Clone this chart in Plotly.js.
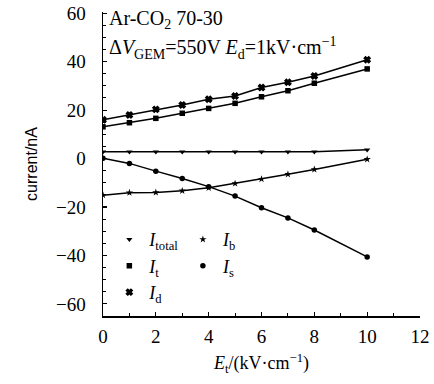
<!DOCTYPE html>
<html>
<head>
<meta charset="utf-8">
<script src="https://cdn.plot.ly/plotly-3.0.1.min.js"></script>
<style>html,body{margin:0;padding:0;background:#fff}</style>
</head>
<body>
<div id="chart" style="width:434px;height:384px"></div>
<script>
const Et = [0, 1, 2, 3, 4, 5, 6, 7, 8, 10];
const I_total = [2.8, 2.8, 2.8, 2.8, 2.8, 2.8, 2.8, 2.8, 2.8, 3.6];
const I_t = [13.1, 14.8, 16.6, 18.7, 20.7, 22.8, 25.5, 28.0, 31.1, 37.0];
const I_d = [16.0, 18.0, 20.3, 22.1, 24.5, 25.8, 29.3, 31.5, 34.1, 40.8];
const I_b = [-15.1, -14.1, -14.0, -13.3, -12.1, -10.3, -8.5, -6.5, -4.5, -0.3];
const I_s = [0.1, -2.0, -5.2, -8.2, -11.6, -15.5, -20.3, -24.5, -29.5, -40.6];

const names = ['<i>I</i><sub>total</sub>', '<i>I</i><sub>t</sub>', '<i>I</i><sub>d</sub>', '<i>I</i><sub>b</sub>', '<i>I</i><sub>s</sub>'];
const seriesList = [I_total, I_t, I_d, I_b, I_s];
const symbols = ['triangle-down', 'square', 'x', 'star', 'circle'];
const legends = ['legend', 'legend', 'legend', 'legend2', 'legend2'];

const traces = [];
seriesList.forEach((ys, i) => {
  traces.push({x: Et, y: ys, mode: 'lines', line: {color: '#000', width: 1.5}, showlegend: false, hoverinfo: 'skip'});
});
seriesList.forEach((ys, i) => {
  traces.push({x: Et, y: ys, mode: 'markers', name: names[i], legend: legends[i],
    marker: {symbol: symbols[i], size: 5.5, color: '#000', line: {color: '#000', width: symbols[i] === 'x' ? 1.2 : 0}}});
});

const serif = 'Liberation Serif, Times New Roman, serif';
const layout = {
  width: 434, height: 384,
  margin: {l: 103, r: 14, t: 12, b: 68},
  paper_bgcolor: '#fff', plot_bgcolor: '#fff',
  font: {family: serif, color: '#000', size: 18},
  xaxis: {
    range: [0, 12], tick0: 0, dtick: 2, ticks: 'inside', ticklen: 4, tickwidth: 1.2, tickcolor: '#000',
    minor: {dtick: 1, ticks: 'inside', ticklen: 3, tickcolor: '#000', tickwidth: 1},
    showline: true, linecolor: '#000', linewidth: 1.5, showgrid: false, zeroline: false,
    tickfont: {family: serif, size: 19, color: '#000'}, ticklabelstandoff: 3,
    title: {text: '<i>E</i><sub>t</sub>/(kV·cm<sup>−1</sup>)', font: {family: serif, size: 18, color: '#000'}, standoff: 10}
  },
  yaxis: {
    range: [-65, 60.5], tick0: 0, dtick: 20, ticks: 'inside', ticklen: 4, tickwidth: 1.2, tickcolor: '#000',
    minor: {dtick: 5, ticks: 'inside', ticklen: 3, tickcolor: '#000', tickwidth: 1},
    showline: true, linecolor: '#000', linewidth: 1.5, showgrid: false, zeroline: false,
    tickfont: {family: serif, size: 19, color: '#000'}, ticklabelstandoff: 12,
    title: {text: 'current/nA', font: {family: 'Liberation Sans, Arial, sans-serif', size: 16, color: '#000'}, standoff: 14}
  },
  legend: {x: 0.02, y: 0.312, xanchor: 'left', yanchor: 'top', bgcolor: 'rgba(0,0,0,0)',
    font: {family: serif, size: 18, color: '#000'}, itemwidth: 30, tracegroupgap: 0},
  legend2: {x: 0.252, y: 0.312, xanchor: 'left', yanchor: 'top', bgcolor: 'rgba(0,0,0,0)',
    font: {family: serif, size: 18, color: '#000'}, itemwidth: 30, tracegroupgap: 0},
  annotations: [
    {xref: 'paper', yref: 'paper', x: 0.012, y: 0.975, xanchor: 'left', yanchor: 'middle', showarrow: false,
     text: 'Ar-CO<sub>2</sub> 70-30', font: {family: serif, size: 20, color: '#000'}},
    {xref: 'paper', yref: 'paper', x: 0.012, y: 0.882, xanchor: 'left', yanchor: 'middle', showarrow: false,
     text: 'Δ<i>V</i><sub>GEM</sub>=550V <i>E</i><sub>d</sub>=1kV·cm<sup>−1</sup>', font: {family: serif, size: 20, color: '#000'}}
  ]
};

Plotly.newPlot('chart', traces, layout, {displayModeBar: false, staticPlot: true});
</script>
</body>
</html>
